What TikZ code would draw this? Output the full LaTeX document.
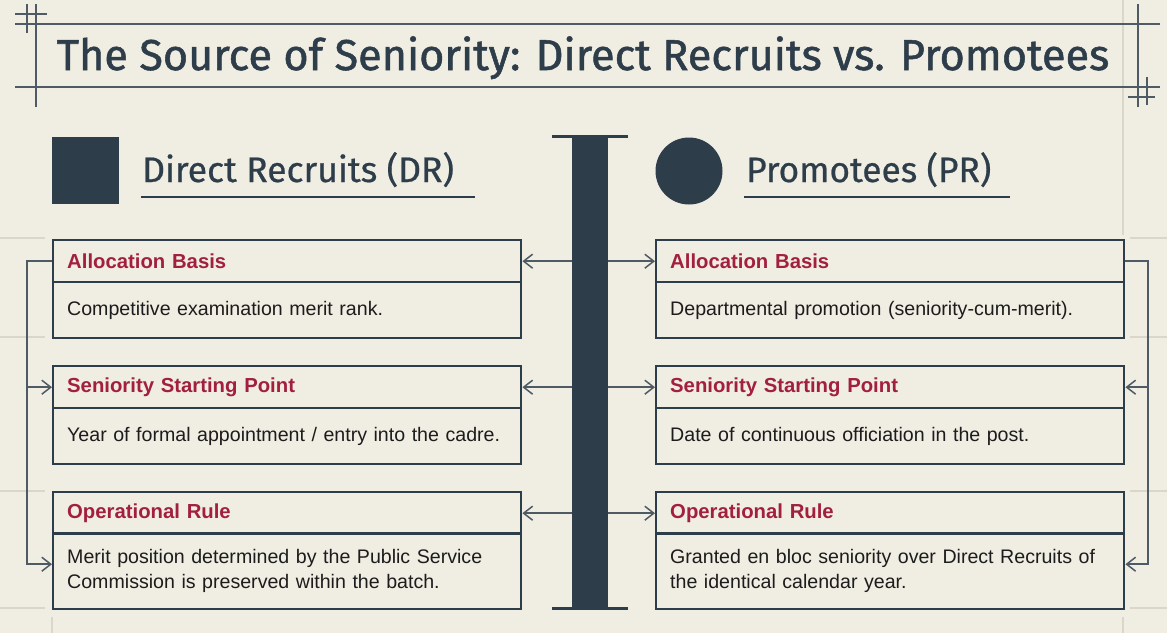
\documentclass[tikz,border=0pt]{standalone}
\usepackage{fontspec}
\setmainfont{Liberation Sans}
\newfontfamily\titlefont[FakeBold=1.2]{Fira Sans}
\newfontfamily\headfont[FakeBold=0.6]{Fira Sans}
\usetikzlibrary{arrows.meta,calc}
\definecolor{bg}{HTML}{F0EDE3}
\definecolor{ink}{HTML}{2E3D4A}
\definecolor{rulec}{HTML}{4E5A64}
\definecolor{faint}{HTML}{DAD6CA}
\definecolor{crim}{HTML}{A2203D}
\definecolor{txt}{HTML}{1C1C1C}
\tikzset{
  cardhead/.style={draw=ink, line width=2.4pt, anchor=north west, minimum width=468pt, minimum height=42pt,
    text width=440pt, inner xsep=14pt, inner ysep=0pt, align=left, text=crim,
    font=\bfseries\fontsize{20.3}{24}\selectfont},
  cardbody/.style={draw=ink, line width=2.4pt, anchor=north west, minimum width=468pt,
    text width=440pt, inner xsep=14pt, inner ysep=0pt, align=left, text=txt,
    font=\fontsize{19.6}{25}\selectfont},
  conn/.style={draw=rulec, line width=1.5pt},
  tip/.style={-{Straight Barb[length=9pt,width=14pt,line width=1.5pt]}},
  frame/.style={draw=rulec, line width=2pt},
  guide/.style={draw=faint, line width=1.2pt},
}
\begin{document}
\begin{tikzpicture}[x=1pt,y=-1pt]
\fill[bg] (0,0) rectangle (1167,633);
\useasboundingbox (0,0) rectangle (1167,633);
% faint guides
\draw[guide] (1123,0) -- (1123,235);
\foreach \yy in {238,337,491,608}{
  \draw[guide] (0,\yy) -- (45,\yy);
  \draw[guide] (1130,\yy) -- (1167,\yy);
}
\draw[guide] (52,617) -- (52,633);
\draw[guide] (1123,617) -- (1123,633);
% title frame
\draw[frame] (15,24) -- (1160,24);
\draw[frame] (15,87) -- (1160,87);
\draw[frame] (36,4) -- (36,107);
\draw[frame] (1138,4) -- (1138,107);
\draw[frame] (27,4) -- (27,33);
\draw[frame] (15,14) -- (47,14);
\draw[frame] (1147,77) -- (1147,105);
\draw[frame] (1128,97) -- (1155,97);
\node[text=ink, font=\titlefont\fontsize{43.2}{48}\selectfont, anchor=base] (title) at (583,70) {The Source of Seniority: Direct Recruits vs. Promotees};
% column headers
\node[fill=ink, draw=none, minimum width=67pt, minimum height=67pt, inner sep=0pt, anchor=north west] (sq) at (52,137) {};
\node[text=ink, font=\headfont\fontsize{35.5}{40}\selectfont, anchor=base west, inner sep=0pt] (dr) at (142,182) {Direct Recruits (DR)};
\draw[ink, line width=2.5pt] (141,197) -- (475,197);
\node[fill=ink, circle, minimum size=67pt, inner sep=0pt] (circ) at (689,171) {};
\node[text=ink, font=\headfont\fontsize{35.3}{40}\selectfont, anchor=base west, inner sep=0pt] (pr) at (746,182) {Promotees (PR)};
\draw[ink, line width=2.5pt] (744,197) -- (1010,197);
% central bar
\node[fill=ink, minimum width=36pt, inner sep=0pt, anchor=north west, minimum height=472pt] (bar) at (572,136) {};
\draw[ink, line width=3pt] (552,136) -- (628,136);
\draw[ink, line width=3pt] (552,608) -- (628,608);
% left cards
\node[cardhead] (l1h) at (52,239) {Allocation Basis};
\node[cardbody, minimum height=56pt] (l1b) at (52,281) {Competitive examination merit rank.};
\node[cardhead] (l2h) at (52,365) {Seniority Starting Point};
\node[cardbody, minimum height=56pt] (l2b) at (52,407) {Year of formal appointment / entry into the cadre.};
\node[cardhead] (l3h) at (52,491) {Operational Rule};
\node[cardbody, minimum height=76pt] (l3b) at (52,532) {Merit position determined by the Public Service\\Commission is preserved within the batch.};
% right cards
\node[cardhead] (r1h) at (655,239) {Allocation Basis};
\node[cardbody, minimum height=56pt] (r1b) at (655,281) {Departmental promotion (seniority-cum-merit).};
\node[cardhead] (r2h) at (655,365) {Seniority Starting Point};
\node[cardbody, minimum height=56pt] (r2b) at (655,407) {Date of continuous officiation in the post.};
\node[cardhead] (r3h) at (655,491) {Operational Rule};
\node[cardbody, minimum height=76pt] (r3b) at (655,532) {Granted en bloc seniority over Direct Recruits of\\the identical calendar year.};
% bar to cards
\foreach \c in {1,2,3}{
  \draw[conn, tip] (bar.west |- l\c h.east) -- (l\c h.east);
  \draw[conn, tip] (bar.east |- r\c h.west) -- (r\c h.west);
}
% side brackets
\coordinate (lx) at (27,0);
\coordinate (rx) at (1148,0);
\coordinate (l3in) at ([yshift=7pt]l3b.west);
\coordinate (r3in) at ([yshift=7pt]r3b.east);
\draw[conn, tip] (l1h.west) -- (lx |- l1h.west) -- (lx |- l3in) -- (l3in);
\draw[conn, tip] (lx |- l2h.west) -- (l2h.west);
\draw[conn, tip] (r1h.east) -- (rx |- r1h.east) -- (rx |- r3in) -- (r3in);
\draw[conn, tip] (rx |- r2h.east) -- (r2h.east);
\end{tikzpicture}
\end{document}
